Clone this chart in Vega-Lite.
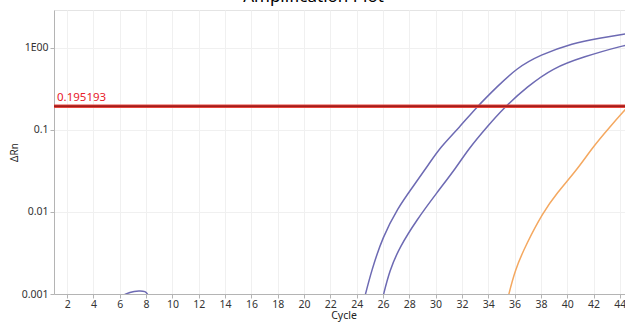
{
  "$schema": "https://vega.github.io/schema/vega-lite/v6.json",
  "autosize": "none",
  "width": 579,
  "height": 284,
  "padding": {"left": 54, "top": 10, "right": 0, "bottom": 28},
  "title": {"text": "Amplification Plot", "fontSize": 17, "fontWeight": "normal", "color": "#000000", "font": "Noto Sans", "anchor": "middle", "dx": -30, "offset": 0, "baseline": "bottom", "dy": 13},
  "config": {
    "view": {"stroke": "#e4e4e4"},
    "font": "Noto Sans",
    "axis": {"domainColor": "#b4b4b4", "tickColor": "#b4b4b4", "tickSize": 4, "labelFontSize": 10.5, "labelColor": "#333333", "titleFontSize": 10, "titleFontWeight": "normal", "titleColor": "#222222", "gridColor": "#f0f0f0", "labelFont": "Noto Sans", "titleFont": "Noto Sans"}
  },
  "datasets": {
    "curves": [
      {"series": "A0", "cycle": 6.13, "rn": 0.00094},
      {"series": "A0", "cycle": 6.74, "rn": 0.00106},
      {"series": "A0", "cycle": 7.5, "rn": 0.0011},
      {"series": "A0", "cycle": 7.95, "rn": 0.00108},
      {"series": "A0", "cycle": 8.11, "rn": 0.001},
      {"series": "A0", "cycle": 8.2, "rn": 0.00092},
      {"series": "A", "cycle": 24.6, "rn": 0.0009},
      {"series": "A", "cycle": 25.14, "rn": 0.00196},
      {"series": "A", "cycle": 25.98, "rn": 0.00496},
      {"series": "A", "cycle": 27.12, "rn": 0.0112},
      {"series": "A", "cycle": 28.26, "rn": 0.0202},
      {"series": "A", "cycle": 29.55, "rn": 0.0396},
      {"series": "A", "cycle": 30.31, "rn": 0.0603},
      {"series": "A", "cycle": 31.83, "rn": 0.1088},
      {"series": "A", "cycle": 33.13, "rn": 0.1908},
      {"series": "A", "cycle": 34.65, "rn": 0.3345},
      {"series": "A", "cycle": 36.17, "rn": 0.5704},
      {"series": "A", "cycle": 37.92, "rn": 0.8214},
      {"series": "A", "cycle": 40.43, "rn": 1.151},
      {"series": "A", "cycle": 42.48, "rn": 1.324},
      {"series": "A", "cycle": 44.38, "rn": 1.482},
      {"series": "A", "cycle": 45, "rn": 1.52},
      {"series": "B", "cycle": 25.98, "rn": 0.0009},
      {"series": "B", "cycle": 26.51, "rn": 0.00196},
      {"series": "B", "cycle": 27.27, "rn": 0.00374},
      {"series": "B", "cycle": 28.56, "rn": 0.00799},
      {"series": "B", "cycle": 30.08, "rn": 0.01705},
      {"series": "B", "cycle": 31.6, "rn": 0.0354},
      {"series": "B", "cycle": 32.44, "rn": 0.057},
      {"series": "B", "cycle": 33.89, "rn": 0.1088},
      {"series": "B", "cycle": 35.25, "rn": 0.1908},
      {"series": "B", "cycle": 36.93, "rn": 0.3345},
      {"series": "B", "cycle": 38.91, "rn": 0.5704},
      {"series": "B", "cycle": 41.19, "rn": 0.7766},
      {"series": "B", "cycle": 44.38, "rn": 1.088},
      {"series": "B", "cycle": 45, "rn": 1.11},
      {"series": "C", "cycle": 35.5, "rn": 0.0009},
      {"series": "C", "cycle": 36.02, "rn": 0.00196},
      {"series": "C", "cycle": 36.93, "rn": 0.00419},
      {"series": "C", "cycle": 38.14, "rn": 0.00972},
      {"series": "C", "cycle": 39.21, "rn": 0.01705},
      {"series": "C", "cycle": 40.73, "rn": 0.0325},
      {"series": "C", "cycle": 41.95, "rn": 0.062},
      {"series": "C", "cycle": 43.24, "rn": 0.1088},
      {"series": "C", "cycle": 44.38, "rn": 0.1754},
      {"series": "C", "cycle": 45, "rn": 0.225}
    ],
    "threshold": [
      {"start_cycle": 1, "threshold": 0.195193, "label": "0.195193"}
    ]
  },
  "layer": [
    {
      "data": {"name": "curves"},
      "mark": {"type": "line", "clip": true, "strokeWidth": 1.5, "interpolate": "basis"},
      "encoding": {
        "x": {"field": "cycle", "type": "quantitative", "scale": {"domain": [1, 45], "nice": false, "zero": false},
              "axis": {"values": [2,4,6,8,10,12,14,16,18,20,22,24,26,28,30,32,34,36,38,40,42,44], "tickCount": 40, "labelOverlap": false, "title": "Cycle", "titleFontSize": 10.5, "titlePadding": 1, "labelPadding": 1, "grid": true}},
        "y": {"field": "rn", "type": "quantitative", "scale": {"type": "log", "domain": [0.001, 2.906], "nice": false},
              "axis": {"values": [0.001, 0.01, 0.1, 1], "tickCount": 10, "labelOverlap": false, "labelExpr": "datum.value >= 1 ? '1E00' : toString(datum.value)", "title": "ΔRn", "titlePadding": 2, "labelPadding": 2, "grid": true}},
        "color": {"field": "series", "type": "nominal", "scale": {"domain": ["A", "A0", "B", "C"], "range": ["#6d6ab3", "#6d6ab3", "#6d6ab3", "#f4a860"]}, "legend": null},
        "detail": {"field": "series"}
      }
    },
    {
      "data": {"name": "threshold"},
      "mark": {"type": "rule", "color": "#e8453c", "strokeWidth": 3.5},
      "encoding": {"y": {"field": "threshold", "type": "quantitative"}}
    },
    {
      "data": {"name": "threshold"},
      "mark": {"type": "rule", "color": "#8a1212", "strokeWidth": 1.2},
      "encoding": {"y": {"field": "threshold", "type": "quantitative"}}
    },
    {
      "data": {"name": "threshold"},
      "mark": {"type": "text", "align": "left", "baseline": "bottom", "dx": 3, "dy": -3, "fontSize": 11.5, "color": "#e8202a"},
      "encoding": {
        "x": {"field": "start_cycle", "type": "quantitative"},
        "y": {"field": "threshold", "type": "quantitative"},
        "text": {"field": "label"}
      }
    }
  ]
}
